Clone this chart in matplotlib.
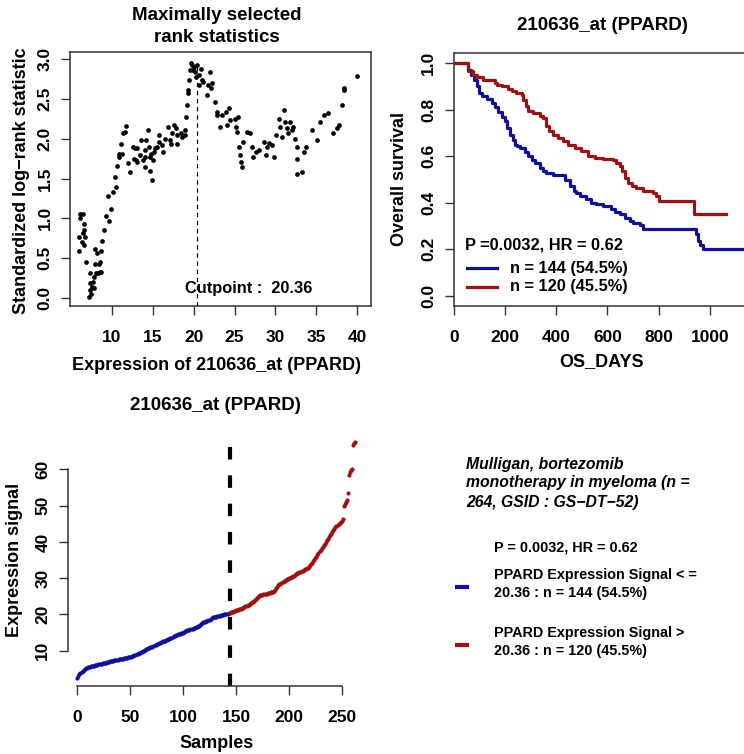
import matplotlib
matplotlib.use('Agg')
import matplotlib.pyplot as plt
from matplotlib.lines import Line2D

plt.rcParams['font.family'] = ['Liberation Sans', 'DejaVu Sans']
plt.rcParams['font.weight'] = 'bold'

# maximally selected rank statistics (cutpoint, standardized statistic)
cut_x = [5.96, 5.96, 6.04, 6.04, 6.45, 6.45, 6.33, 6.53, 6.60, 6.60,
         6.73, 6.86, 7.14, 7.27, 7.27, 7.35, 7.47, 7.55, 7.67, 7.76,
         7.84, 7.96, 7.96, 8.08, 8.16, 8.29, 8.37, 8.49, 8.57, 8.69,
         8.78, 8.69, 9.06, 9.31, 9.47, 9.59, 9.88, 10.1, 10.4, 10.5,
         10.6, 10.8, 10.9, 11.1, 11.2, 11.4, 11.75, 11.6, 12.0, 12.2,
         12.6, 12.7, 12.8, 12.9, 13.1, 13.1, 13.4, 13.6, 13.8, 14.0,
         14.0, 14.1, 14.2, 14.4, 14.5, 14.6, 14.7, 14.8, 14.9, 15.0,
         15.2, 15.3, 15.5, 15.7, 15.8, 16.1, 16.3, 16.5, 16.9, 17.1,
         17.2, 17.3, 17.6, 17.8, 18.0, 18.0, 18.4, 18.6, 18.9, 19.0,
         19.1, 19.2, 19.3, 19.3, 19.4, 19.5, 19.7, 19.8, 19.9, 20.1,
         20.2, 20.3, 20.4, 20.6, 20.7, 20.9, 21.0, 21.2, 21.6, 21.8,
         22.0, 22.1, 22.2, 22.6, 22.8, 22.9, 23.2, 23.5, 23.9, 24.1,
         24.3, 24.4, 25.1, 25.2, 25.3, 25.4, 25.6, 25.7, 25.8, 25.9,
         26.0, 26.5, 26.9, 27.1, 27.3, 27.6, 28.0, 28.6, 28.8, 29.0,
         29.2, 29.6, 29.8, 30.1, 30.4, 30.6, 30.8, 31.0, 31.2, 31.4,
         31.5, 31.8, 32.0, 32.2, 32.4, 32.6, 32.7, 32.7, 33.3, 33.5,
         33.8, 34.5, 35.1, 35.5, 35.9, 36.5, 37.1, 37.5, 37.8, 38.2,
         38.4, 38.4, 40.0]
cut_y = [0.59, 0.77, 1.06, 1.00, 1.06, 0.81, 0.70, 0.66, 0.93, 0.85,
         0.77, 0.45, 0.01, 0.10, 0.19, 0.31, 0.05, 0.14, 0.20, 0.12,
         0.26, 0.43, 0.62, 0.31, 0.56, 0.31, 0.43, 0.33, 0.45, 0.59,
         0.72, 0.33, 0.86, 1.03, 1.28, 0.97, 1.12, 1.33, 1.52, 1.39,
         1.66, 1.81, 1.77, 1.93, 1.81, 2.07, 2.16, 2.09, 1.69, 1.58,
         1.90, 1.75, 1.88, 1.73, 1.71, 1.88, 1.79, 1.98, 1.73, 1.65,
         1.77, 1.86, 1.98, 2.11, 1.90, 1.77, 1.60, 1.81, 1.48, 1.73,
         1.83, 1.88, 1.90, 2.05, 1.96, 1.92, 1.83, 2.00, 2.15, 1.98,
         1.93, 2.07, 2.17, 2.13, 1.93, 2.05, 2.07, 2.02, 2.05, 2.11,
         2.27, 2.42, 2.57, 2.61, 2.74, 2.86, 2.95, 2.93, 2.86, 2.90,
         2.84, 2.78, 2.92, 2.80, 2.67, 2.88, 2.74, 2.71, 2.55, 2.67,
         2.84, 2.63, 2.70, 2.46, 2.34, 2.30, 2.15, 2.30, 2.34, 2.17,
         2.38, 2.23, 2.25, 2.15, 2.09, 2.27, 1.90, 1.79, 1.71, 1.65,
         1.96, 2.09, 2.07, 1.90, 1.77, 1.83, 1.86, 1.96, 1.79, 1.90,
         1.94, 1.92, 1.77, 2.05, 2.25, 2.15, 2.02, 2.36, 2.21, 2.13,
         2.07, 2.21, 2.11, 2.15, 2.00, 1.90, 1.75, 1.56, 1.58, 1.83,
         1.90, 2.11, 1.98, 2.21, 2.30, 2.32, 2.07, 2.13, 2.17, 2.42,
         2.61, 2.64, 2.79]
cutpoint = 20.36
max_stat = 2.95

# Kaplan-Meier steps (days, survival)
low_t = [0, 57, 66, 79, 90, 100, 109, 129, 148, 161, 174, 187, 200, 209, 219,
         230, 239, 248, 258, 278, 291, 304, 317, 336, 349, 362, 388, 434, 453,
         469, 479, 492, 518, 538, 557, 583, 616, 629, 648, 668, 687, 700, 726,
         739, 947, 953, 960, 973, 1150]
low_s = [1.0, 0.97, 0.95, 0.93, 0.90, 0.87, 0.857, 0.846, 0.83, 0.81, 0.79,
         0.77, 0.75, 0.72, 0.69, 0.67, 0.65, 0.643, 0.636, 0.62, 0.60, 0.586,
         0.57, 0.55, 0.536, 0.529, 0.521, 0.50, 0.47, 0.45, 0.44, 0.43, 0.414,
         0.40, 0.393, 0.386, 0.374, 0.36, 0.35, 0.336, 0.32, 0.314, 0.303,
         0.289, 0.264, 0.236, 0.22, 0.203, 0.203]
high_t = [0, 57, 77, 90, 116, 161, 168, 187, 213, 226, 245, 265, 271, 282, 291,
          310, 336, 349, 362, 373, 388, 408, 427, 447, 473, 499, 525, 551, 583,
          622, 635, 648, 658, 668, 681, 697, 713, 739, 778, 791, 801, 940, 1064]
high_s = [1.0, 0.965, 0.95, 0.94, 0.93, 0.917, 0.907, 0.90, 0.889, 0.879,
          0.871, 0.864, 0.843, 0.814, 0.793, 0.786, 0.774, 0.764, 0.729, 0.707,
          0.693, 0.679, 0.664, 0.65, 0.636, 0.621, 0.603, 0.593, 0.589, 0.586,
          0.571, 0.557, 0.536, 0.507, 0.486, 0.471, 0.464, 0.45, 0.443, 0.429,
          0.407, 0.35, 0.35]

# sorted expression signal, low group (<= cutpoint) then high group
expr_low = [2.6, 3.1, 3.6, 3.9, 4.2, 4.4, 4.6, 4.9, 5.1, 5.3,
            5.4, 5.5, 5.6, 5.65, 5.7, 5.8, 5.9, 5.95, 6.0, 6.1,
            6.2, 6.3, 6.35, 6.4, 6.5, 6.6, 6.65, 6.7, 6.8, 6.9,
            7.0, 7.05, 7.1, 7.2, 7.3, 7.35, 7.4, 7.5, 7.55, 7.6,
            7.7, 7.75, 7.8, 7.85, 7.9, 7.95, 8.0, 8.1, 8.15, 8.2,
            8.3, 8.4, 8.5, 8.6, 8.75, 8.9, 9.05, 9.2, 9.3, 9.45,
            9.6, 9.75, 9.9, 10.05, 10.2, 10.35, 10.5, 10.65, 10.8, 10.9,
            11.0, 11.15, 11.3, 11.5, 11.65, 11.8, 11.95, 12.1, 12.2, 12.35,
            12.45, 12.55, 12.65, 12.8, 12.9, 13.0, 13.1, 13.25, 13.4, 13.6,
            13.8, 13.95, 14.1, 14.25, 14.4, 14.5, 14.6, 14.7, 14.8, 14.9,
            15.0, 15.15, 15.3, 15.5, 15.6, 15.7, 15.8, 15.9, 16.0, 16.1,
            16.2, 16.35, 16.45, 16.5, 16.7, 16.9, 17.1, 17.35, 17.6, 17.8,
            17.9, 18.0, 18.1, 18.25, 18.4, 18.6, 18.8, 19.0, 19.2, 19.3,
            19.35, 19.4, 19.45, 19.5, 19.6, 19.7, 19.8, 19.85, 19.9, 20.0,
            20.1, 20.15, 20.25, 20.36]
expr_high = [20.5, 20.6, 20.7, 20.8, 20.9, 21.0,
             21.1, 21.2, 21.3, 21.4, 21.5, 21.6, 21.75, 21.9, 22.05, 22.2,
             22.35, 22.5, 22.7, 22.9, 23.1, 23.3, 23.5, 23.7, 24.0, 24.3,
             24.6, 24.9, 25.1, 25.25, 25.35, 25.45, 25.5, 25.6, 25.7, 25.75,
             25.8, 25.9, 26.0, 26.05, 26.1, 26.2, 26.4, 26.8, 27.3, 27.7,
             28.0, 28.3, 28.5, 28.7, 28.9, 29.1, 29.3, 29.5, 29.7, 29.85,
             30.0, 30.1, 30.25, 30.4, 30.55, 30.7, 30.9, 31.1, 31.3, 31.5,
             31.65, 31.8, 31.95, 32.1, 32.25, 32.4, 32.55, 32.7, 32.9, 33.2,
             33.5, 33.9, 34.3, 34.7, 35.1, 35.5, 35.9, 36.4, 36.9, 37.4,
             37.9, 38.3, 38.7, 39.1, 39.5, 39.9, 40.4, 40.9, 41.4, 41.9,
             42.3, 42.8, 43.2, 43.6, 44.0, 44.4, 44.7, 45.0, 45.3, 45.6,
             45.8, 46.2, 49.9, 50.4, 51.1, 51.6, 53.4, 58.4, 59.3, 59.8,
             60.1, 66.7, 67.2, 67.6]

BLUE = '#10109c'
RED = '#a01010'
TICK_FS = 12.5
LAB_FS = 13
TITLE_FS = 13.5
NOTE_FS = 11.8
INFO_FS = 10.4

W, H = 744, 754
fig = plt.figure(figsize=(W / 100, H / 100), dpi=100)


def px_axes(l, t, r, b):
    return fig.add_axes([l / W, 1 - b / H, (r - l) / W, (b - t) / H])


def ftext(x, y, s, **kw):
    kw.setdefault('ha', 'center')
    kw.setdefault('va', 'center')
    fig.text(x / W, 1 - y / H, s, **kw)


def style(ax, pad_x=11, pad_y=6):
    ax.tick_params(axis='both', length=6.5, width=1, color='#333333',
                   labelsize=TICK_FS)
    ax.tick_params(axis='x', pad=pad_x)
    ax.tick_params(axis='y', pad=pad_y)
    for lab in ax.get_yticklabels():
        lab.set_rotation(90)
        lab.set_va('center')
    for sp in ax.spines.values():
        sp.set_color('#333333')
        sp.set_linewidth(1.1)


# --- top left: maxstat ---
ax1 = px_axes(70, 52, 371, 306)
ax1.plot(cut_x, cut_y, 'o', ms=3.4, color='black', mec='none')
ax1.plot([cutpoint, cutpoint], [-0.1, max_stat], color='black', lw=0.9,
         dashes=(3.5, 3))
ax1.text(26.7, 0.125, 'Cutpoint :  %.2f' % cutpoint, ha='center', va='center',
         fontsize=NOTE_FS)
ax1.set_xlim(4.86, 41.71)
ax1.set_ylim(-0.1, 3.088)
ax1.set_xticks([10, 15, 20, 25, 30, 35, 40])
ax1.set_yticks([0, 0.5, 1.0, 1.5, 2.0, 2.5, 3.0])
ax1.set_yticklabels(['0.0', '0.5', '1.0', '1.5', '2.0', '2.5', '3.0'])
style(ax1)
ftext(217, 15, 'Maximally selected', fontsize=TITLE_FS)
ftext(217, 37, 'rank statistics', fontsize=TITLE_FS)
ftext(217, 366, 'Expression of 210636_at (PPARD)', fontsize=LAB_FS)
ftext(22, 181, 'Standardized log\u2212rank statistic', fontsize=LAB_FS,
      rotation=90)

# --- top right: Kaplan-Meier ---
ax2 = px_axes(453.7, 53, 750, 306)
ax2.step(low_t, low_s, where='post', color=BLUE, lw=2.3)
ax2.step(high_t, high_s, where='post', color=RED, lw=2.3)
ax2.set_xlim(0, 1157)
ax2.set_ylim(-0.044, 1.044)
ax2.set_xticks([0, 200, 400, 600, 800, 1000])
ax2.set_yticks([0, 0.2, 0.4, 0.6, 0.8, 1.0])
ax2.set_yticklabels(['0.0', '0.2', '0.4', '0.6', '0.8', '1.0'])
style(ax2)
ftext(602, 25, '210636_at (PPARD)', fontsize=TITLE_FS)
ftext(602, 362, 'OS_DAYS', fontsize=LAB_FS)
ftext(400, 179, 'Overall survival', fontsize=LAB_FS, rotation=90)
ftext(465, 245, 'P =0.0032, HR = 0.62', ha='left', fontsize=NOTE_FS)
for yy, col, lab in [(268, BLUE, 'n = 144 (54.5%)'), (287, RED, 'n = 120 (45.5%)')]:
    fig.add_artist(Line2D([467 / W, 497 / W], [1 - yy / H] * 2, color=col, lw=2.3))
    ftext(510, yy, lab, ha='left', fontsize=NOTE_FS)

# --- bottom left: sorted expression ---
ax3 = px_axes(67.7, 432, 366.6, 686)
n_low = len(expr_low)
ax3.plot(range(n_low), expr_low, 'o', ms=3.0, color=BLUE, mec='none')
ax3.plot(range(n_low, n_low + len(expr_high)), expr_high, 'o', ms=3.0,
         color=RED, mec='none')
ax3.plot([n_low, n_low], [66.2, 0.27], color='black', lw=3, dashes=(3.0, 3.8))
ax3.set_xlim(-9.1, 273.5)
ax3.set_ylim(0.27, 70.3)
ax3.set_xticks([0, 50, 100, 150, 200, 250])
ax3.set_yticks([10, 20, 30, 40, 50, 60])
style(ax3)
ax3.spines['top'].set_visible(False)
ax3.spines['right'].set_visible(False)
ax3.spines['left'].set_bounds(10, 60)
ax3.spines['bottom'].set_bounds(0, 250)
ftext(215, 405, '210636_at (PPARD)', fontsize=TITLE_FS)
ftext(217, 743, 'Samples', fontsize=LAB_FS)
ftext(15, 560, 'Expression signal', fontsize=LAB_FS, rotation=90)

# --- bottom right: description and legend ---
info = ['Mulligan, bortezomib', 'monotherapy in myeloma (n =',
        '264, GSID : GS\u2212DT\u221252)']
for i, line in enumerate(info):
    ftext(466, 464 + 19 * i, line, ha='left', fontsize=11.3, style='italic')
ftext(494, 547, 'P = 0.0032, HR = 0.62', ha='left', fontsize=INFO_FS)
legend_rows = [(575, 'PPARD Expression Signal < =', '20.36 : n = 144 (54.5%)', BLUE),
               (633, 'PPARD Expression Signal >', '20.36 : n = 120 (45.5%)', RED)]
for yy, l1, l2, col in legend_rows:
    ftext(494, yy, l1, ha='left', fontsize=INFO_FS)
    ftext(494, yy + 18, l2, ha='left', fontsize=INFO_FS)
    fig.add_artist(Line2D([455 / W, 469 / W], [1 - (yy + 12) / H] * 2,
                          color=col, lw=3, solid_capstyle='butt'))

fig.savefig('out.png', dpi=100)
